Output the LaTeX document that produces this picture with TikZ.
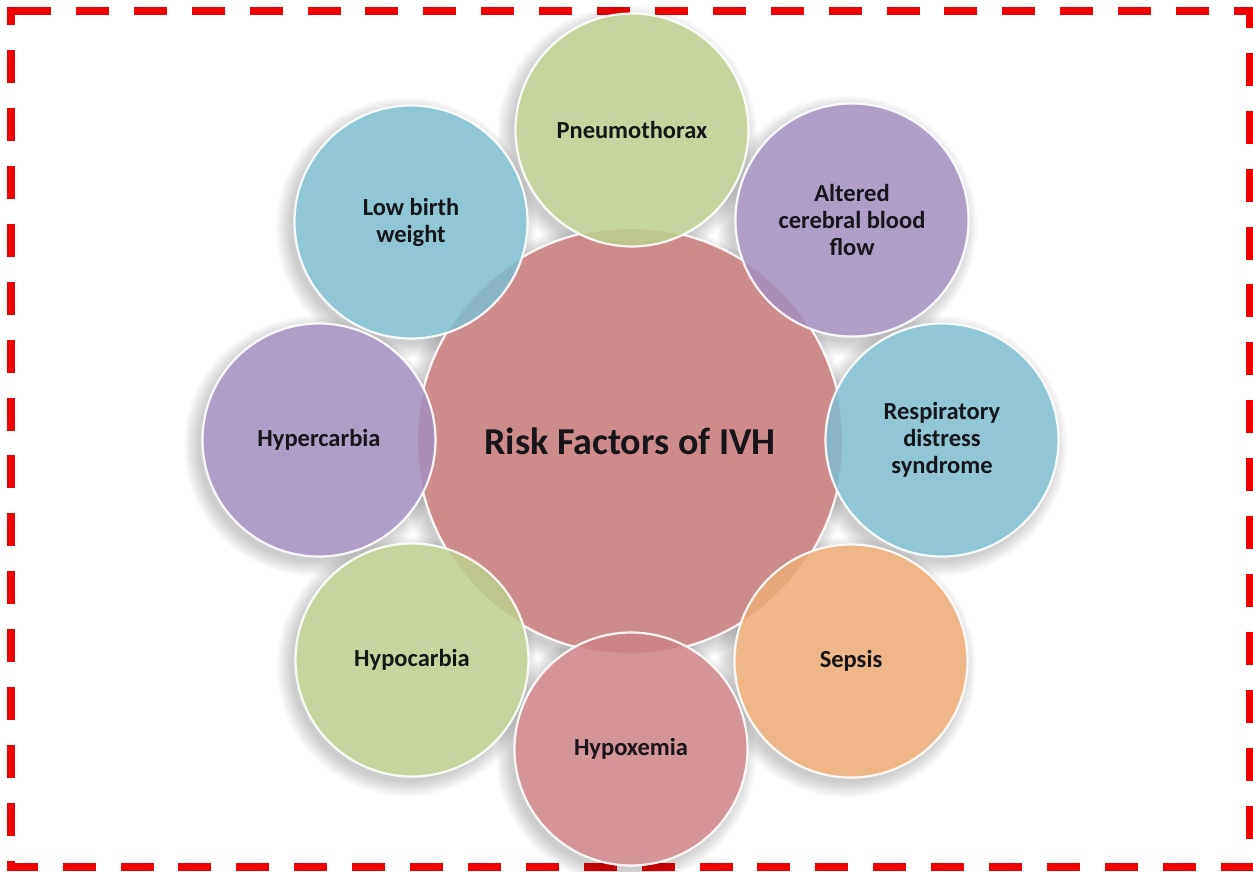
\documentclass[tikz,border=0pt]{standalone}
\usepackage{fontspec}
\setmainfont{Carlito}
\definecolor{frameRed}{RGB}{240,0,0}
\definecolor{hubRed}{RGB}{199,120,122}
\definecolor{leafGreen}{RGB}{189,207,144}
\definecolor{leafPurple}{RGB}{163,143,189}
\definecolor{leafBlue}{RGB}{127,189,206}
\definecolor{leafOrange}{RGB}{237,172,117}
\definecolor{leafRed}{RGB}{207,131,135}
\definecolor{labelInk}{RGB}{22,22,26}
\begin{document}
\begin{tikzpicture}[x=1pt,y=-1pt,
  framedash/.style={draw=frameRed, line width=8pt, dash pattern=on 33pt off 24.9pt, line join=miter},
  disc/.style={circle, inner sep=0pt, draw=white, draw opacity=0.9, line width=2.2pt,
    fill opacity=0.86, text opacity=1, text=labelInk, align=center},
  leaf/.style={disc, minimum size=233pt, font=\fontsize{24.5}{27}\selectfont\bfseries},
  hubdisc/.style={disc, minimum size=426pt, font=\fontsize{38}{44}\selectfont\bfseries}]

\useasboundingbox (0,0) rectangle (1253,871);

% dashed red frame, one closed path so the dashes turn the corners
\draw[framedash] (18,11) -| (1250,867) -| (11,11) -- cycle;

% soft shadows under the discs
\foreach \cx/\cy/\r in {630/441/213, 632/130/116, 411/222/116, 852/220/116, 319/440/116,
                        942/440/116, 412/660/116, 851/661/116, 631/749/116}{
  \foreach \k in {1,...,9}{
    \fill[black, opacity=0.022] (\cx-5,\cy+6) circle[radius={(\r+16-1.8*\k)*1pt}];
  }
}
% opaque white bases so the shadows do not tint the translucent fills
\foreach \cx/\cy/\r in {630/441/213, 632/130/116, 411/222/116, 852/220/116, 319/440/116,
                        942/440/116, 412/660/116, 851/661/116, 631/749/116}{
  \fill[white] (\cx,\cy) circle[radius={\r*1pt}];
}

% central disc
\node[hubdisc, fill=hubRed] (hub) at (630,441) {Risk Factors of IVH};

% surrounding discs
\node[leaf, fill=leafGreen]  (pneumo) at (632,130) {Pneumothorax};
\node[leaf, fill=leafBlue]   (lbw)    at (411,222) {Low birth\\weight};
\node[leaf, fill=leafPurple] (acbf)   at (852,220) {Altered\\cerebral blood\\flow};
\node[leaf, fill=leafPurple] (hyperc) at (319,440) {Hypercarbia};
\node[leaf, fill=leafBlue]   (rds)    at (942,440) {Respiratory\\distress\\syndrome};
\node[leaf, fill=leafGreen]  (hypoc)  at (412,660) {Hypocarbia};
\node[leaf, fill=leafOrange] (sepsis) at (851,661) {Sepsis};
\node[leaf, fill=leafRed]    (hypox)  at (631,749) {Hypoxemia};
\end{tikzpicture}
\end{document}
